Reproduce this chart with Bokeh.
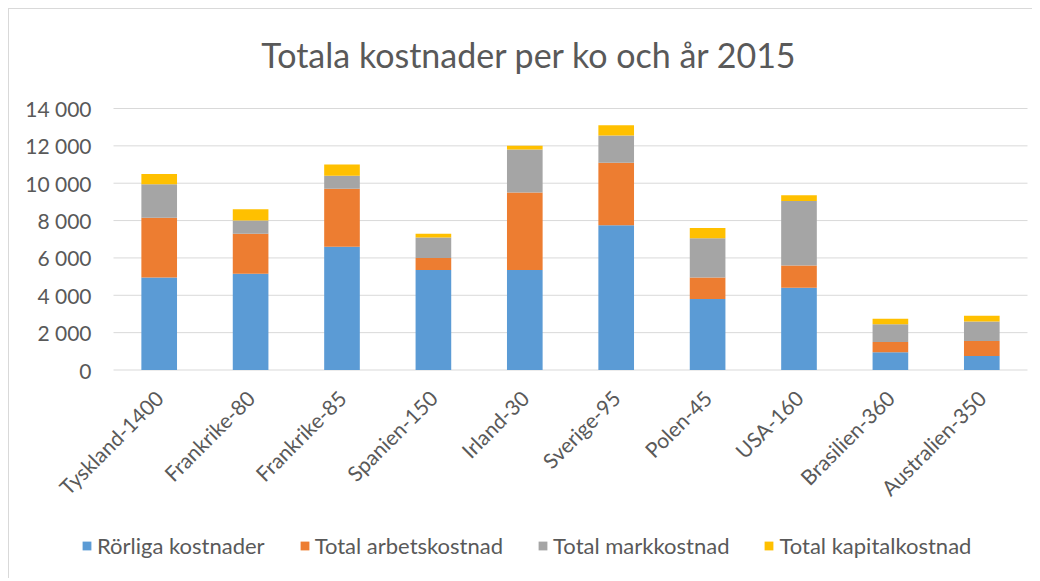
import math
from bokeh.plotting import figure
from bokeh.models import Legend, LegendItem, Label, FixedTicker, Range1d
from bokeh.embed import file_html
from bokeh.resources import INLINE

categories = ["Tyskland-1400", "Frankrike-80", "Frankrike-85", "Spanien-150", "Irland-30",
              "Sverige-95", "Polen-45", "USA-160", "Brasilien-360", "Australien-350"]
rorliga = [4950, 5150, 6600, 5350, 5350, 7750, 3800, 4400, 950, 750]
arbete = [3200, 2150, 3100, 650, 4150, 3350, 1150, 1200, 550, 800]
mark = [1800, 700, 700, 1100, 2300, 1450, 2100, 3450, 950, 1050]
kapital = [550, 600, 600, 200, 200, 550, 550, 300, 300, 300]
series_names = ["Rörliga kostnader", "Total arbetskostnad", "Total markkostnad", "Total kapitalkostnad"]
colors = ["#5B9BD5", "#ED7D31", "#A5A5A5", "#FFC000"]
y_ticks = [0, 2000, 4000, 6000, 8000, 10000, 12000, 14000]
y_tick_labels = ["0", "2 000", "4 000", "6 000", "8 000", "10 000", "12 000", "14 000"]
title_text = "Totala kostnader per ko och år 2015"

FONT = "Lato"
TXT = "#595959"
GRID = "#d9d9d9"

# ---- layout (page pixels) ----
W, H = 1024, 570           # canvas, placed at page (9, 9)
CANVAS_L, CANVAS_T = 9, 9
PLOT_L, PLOT_R = 113, 1027  # category area
PLOT_T, ZERO_Y = 108, 369.5 # y=14000 and y=0
n = len(categories)
px_cat = (PLOT_R - PLOT_L) / n
Y_MAX = y_ticks[-1]
px_val = (ZERO_Y - PLOT_T) / Y_MAX

def xdata(px):
    return -0.5 + (px - PLOT_L) / px_cat

def ydata(py):
    return (ZERO_Y - py) / px_val

x_range = Range1d(xdata(CANVAS_L), xdata(CANVAS_L + W))
y_range = Range1d(ydata(CANVAS_T + H), ydata(CANVAS_T))

xs = list(range(n))
data = {"x": xs, "s0": rorliga, "s1": arbete, "s2": mark, "s3": kapital}

p = figure(width=W, height=H, x_range=x_range, y_range=y_range,
           output_backend="svg", toolbar_location=None, title=None,
           min_border_left=0, min_border_right=0, min_border_top=0, min_border_bottom=0,
           x_axis_location="below", y_axis_location="left",
           styles={"margin-left": "8px", "margin-top": "8px",
                   "border-left": "1px solid #d9d9d9", "border-top": "1px solid #d9d9d9"})

p.outline_line_color = None
p.xgrid.grid_line_color = None
p.ygrid.grid_line_color = None

# horizontal gridlines over the category area
p.segment(x0=[-0.5] * len(y_ticks), x1=[n - 0.5] * len(y_ticks), y0=y_ticks, y1=y_ticks,
          line_color=GRID, line_width=1)

renderers = p.vbar_stack(["s0", "s1", "s2", "s3"], x="x", width=0.39, color=colors,
                         line_color=None, source=data)

p.yaxis.fixed_location = -0.5
p.yaxis.ticker = FixedTicker(ticks=y_ticks)
p.yaxis.major_label_overrides = {t: l for t, l in zip(y_ticks, y_tick_labels)}
p.yaxis.axis_line_color = None
p.yaxis.major_tick_line_color = None
p.yaxis.minor_tick_line_color = None
p.yaxis.major_label_text_font = FONT
p.yaxis.major_label_text_font_size = "21px"
p.yaxis.major_label_text_color = TXT
p.yaxis.major_label_standoff = 16

p.xaxis.fixed_location = 0
p.xaxis.ticker = FixedTicker(ticks=xs)
p.xaxis.major_label_overrides = {i: c for i, c in zip(xs, categories)}
p.xaxis.axis_line_color = None
p.xaxis.major_tick_line_color = None
p.xaxis.minor_tick_line_color = None
p.xaxis.major_label_orientation = math.pi / 4
p.xaxis.major_label_text_font = FONT
p.xaxis.major_label_text_font_size = "21px"
p.xaxis.major_label_text_color = TXT
p.xaxis.major_label_standoff = 18

title = Label(x=xdata(529), y=ydata(54), text=title_text, text_font=FONT,
              text_font_size="34px", text_color=TXT, text_align="center",
              text_baseline="middle")
p.add_layout(title)

items = [LegendItem(label=nm, renderers=[r]) for nm, r in zip(series_names, renderers)]
legend = Legend(items=items, orientation="horizontal", location=(72, 20),
                label_text_font=FONT, label_text_font_size="22px", label_text_color=TXT,
                glyph_width=11, glyph_height=11, spacing=34, label_standoff=5,
                padding=5, margin=0, border_line_color=None, background_fill_alpha=0)
p.add_layout(legend, "center")

open("out.html", "w").write(file_html(p, INLINE))
